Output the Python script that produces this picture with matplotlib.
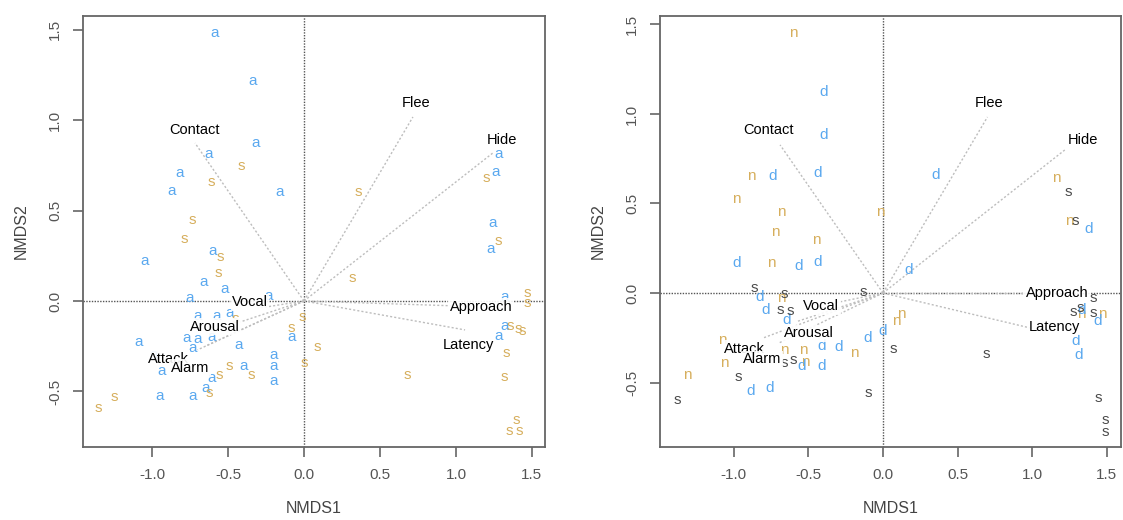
import matplotlib
matplotlib.use("Agg")
import matplotlib.pyplot as plt

plt.rcParams['font.family'] = ['Liberation Sans', 'DejaVu Sans']

# ---------------- data ----------------
vectors = ["Contact", "Flee", "Hide", "Approach", "Latency", "Vocal", "Arousal", "Attack", "Alarm"]

# left panel envfit vectors (ends) and label positions
left_vec_x = [-0.717, 0.717, 1.243, 1.10, 1.06, -0.30, -0.42, -0.70, -0.65]
left_vec_y = [0.873, 1.017, 0.818, -0.03, -0.16, -0.04, -0.116, -0.27, -0.25]
left_lab_x = [-0.72, 0.74, 1.30, 1.164, 1.08, -0.355, -0.585, -0.895, -0.75]
left_lab_y = [0.945, 1.094, 0.89, -0.033, -0.243, -0.006, -0.143, -0.32, -0.37]

# right panel
right_vec_x = [-0.69, 0.70, 1.22, 1.05, 0.985, -0.35, -0.58, -0.80, -0.70]
right_vec_y = [0.827, 0.983, 0.80, 0.0, -0.195, -0.06, -0.16, -0.25, -0.28]
right_lab_x = [-0.77, 0.71, 1.34, 1.166, 1.15, -0.415, -0.50, -0.93, -0.81]
right_lab_y = [0.91, 1.06, 0.855, 0.0, -0.19, -0.073, -0.225, -0.31, -0.37]

# left panel points: 'a' (blue) and 's' (tan)
left_a_x = [-0.59, -0.34, -0.32, -0.63, -0.815, -0.87, -0.16, -0.60, -1.046, -0.66, -0.52,
            -0.755, -0.23, -0.70, -0.575, -0.487, -0.08, -1.085, -0.77, -0.70, -0.61, -0.43,
            -0.73, -0.99, -0.935, -0.20, -0.20, -0.20, -0.40, -0.61, -0.645, -0.735, -0.95,
            1.28, 1.26, 1.24, 1.23, 1.32, 1.32, 1.28]
left_a_y = [1.48, 1.215, 0.873, 0.81, 0.705, 0.61, 0.60, 0.275, 0.22, 0.105, 0.066,
            0.015, 0.03, -0.083, -0.083, -0.068, -0.20, -0.225, -0.205, -0.21, -0.20, -0.245,
            -0.26, -0.30, -0.385, -0.30, -0.36, -0.44, -0.36, -0.425, -0.48, -0.525, -0.525,
            0.815, 0.715, 0.43, 0.29, 0.02, -0.14, -0.195]
left_s_x = [-0.41, -0.61, -0.735, -0.79, -0.55, -0.565, -0.45, -0.08, -0.49, -0.345, -0.56,
            -0.625, -1.245, -1.355, 0.36, 1.20, 1.28, 0.32, 1.47, 1.47, -0.01, 0.085, 0.0,
            1.355, 1.41, 1.44, 1.33, 1.32, 0.68, 1.40, 1.35, 1.415]
left_s_y = [0.745, 0.66, 0.45, 0.34, 0.245, 0.155, -0.10, -0.15, -0.36, -0.41, -0.41,
            -0.51, -0.53, -0.59, 0.60, 0.68, 0.33, 0.125, 0.045, -0.01, -0.09, -0.255, -0.34,
            -0.14, -0.155, -0.165, -0.29, -0.42, -0.41, -0.66, -0.72, -0.72]

# right panel points: 'n' (tan), 'd' (blue), 's' (dark grey)
right_n_x = [-0.60, -0.88, -0.985, -0.68, -0.72, -0.45, -0.02, -0.75, -0.68, -1.08, -0.19,
             -0.665, -0.535, -0.52, -1.065, -1.315, 1.16, 1.25, 0.12, 0.09, 1.33, 1.47]
right_n_y = [1.45, 0.655, 0.525, 0.45, 0.34, 0.295, 0.45, 0.17, -0.03, -0.26, -0.335,
             -0.32, -0.32, -0.385, -0.39, -0.46, 0.64, 0.40, -0.12, -0.155, -0.12, -0.12]
right_d_x = [-0.40, -0.40, -0.44, -0.74, -0.98, -0.565, -0.44, -0.825, -0.785, -0.645, -0.10,
             -0.41, -0.295, -0.545, -0.41, -0.885, -0.76, 0.355, 1.375, 0.17, 0.0, 1.33,
             1.44, 1.29, 1.31]
right_d_y = [1.12, 0.88, 0.67, 0.655, 0.17, 0.15, 0.175, -0.02, -0.095, -0.15, -0.25,
             -0.295, -0.30, -0.41, -0.41, -0.55, -0.53, 0.66, 0.36, 0.13, -0.21, -0.095,
             -0.155, -0.27, -0.345]
right_s_x = [-0.865, -0.66, -0.69, -0.62, -0.13, -0.665, -0.60, -0.97, -1.38, -0.10, 1.24,
             1.29, 0.07, 0.69, 1.41, 1.275, 1.32, 1.41, 1.44, 1.49, 1.49]
right_s_y = [0.03, -0.005, -0.095, -0.10, 0.006, -0.39, -0.375, -0.47, -0.60, -0.56, 0.565,
             0.40, -0.31, -0.34, -0.03, -0.105, -0.085, -0.11, -0.585, -0.71, -0.775]

xticks = [-1.0, -0.5, 0.0, 0.5, 1.0, 1.5]
yticks = [-0.5, 0.0, 0.5, 1.0, 1.5]

BLUE = "#5aa8ef"
TAN = "#d6ae5c"
DARK = "#4a4a4a"

fig = plt.figure(figsize=(11.23, 5.2), dpi=100)
axL = fig.add_axes([83/1123, 1-447/520, (545-83)/1123, (447-16)/520])
axR = fig.add_axes([660/1123, 1-447/520, (1121-660)/1123, (447-16)/520])


def style(ax, xlim, ylim):
    ax.set_xlim(*xlim)
    ax.set_ylim(*ylim)
    ax.set_xticks(xticks)
    ax.set_yticks(yticks)
    ax.set_xticklabels([f"{v:.1f}" for v in xticks])
    ax.set_yticklabels([f"{v:.1f}" for v in yticks], rotation=90, va="center")
    for s in ax.spines.values():
        s.set_color("#666666")
        s.set_linewidth(1.3)
    ax.tick_params(direction="out", length=7, width=1.2, color="#666666",
                   labelcolor="#555555", labelsize=11, pad=8)
    ax.set_xlabel("NMDS1", fontsize=11.5, color="#444444", labelpad=14)
    ax.set_ylabel("NMDS2", fontsize=11.5, color="#444444", labelpad=14)
    ax.axhline(0, color="#555555", ls=(0, (1, 1)), lw=1.0, zorder=1)
    ax.axvline(0, color="#555555", ls=(0, (1, 1)), lw=1.0, zorder=1)


def draw_vectors(ax, vx, vy, lx, ly):
    for name, x, y, tx, ty in zip(vectors, vx, vy, lx, ly):
        ax.plot([0, x], [0, y], color="#bdbdbd", ls=(0, (1.5, 1.5)), lw=1.0, zorder=2)
    for name, x, y, tx, ty in zip(vectors, vx, vy, lx, ly):
        ax.text(tx, ty, name, ha="center", va="center", fontsize=10.5, color="black",
                zorder=5, bbox=dict(boxstyle="square,pad=0.1", fc="white", ec="none", alpha=0.9))


def draw_points(ax, xs, ys, letter, color):
    for x, y in zip(xs, ys):
        ax.text(x, y, letter, ha="center", va="center", fontsize=11, color=color, zorder=3)


style(axL, (-1.454, 1.586), (-0.807, 1.575))
style(axR, (-1.495, 1.595), (-0.86, 1.547))

draw_points(axL, left_a_x, left_a_y, "a", BLUE)
draw_points(axL, left_s_x, left_s_y, "s", TAN)
draw_vectors(axL, left_vec_x, left_vec_y, left_lab_x, left_lab_y)

draw_points(axR, right_n_x, right_n_y, "n", TAN)
draw_points(axR, right_d_x, right_d_y, "d", BLUE)
draw_points(axR, right_s_x, right_s_y, "s", DARK)
draw_vectors(axR, right_vec_x, right_vec_y, right_lab_x, right_lab_y)

fig.savefig("out.png", dpi=100)
